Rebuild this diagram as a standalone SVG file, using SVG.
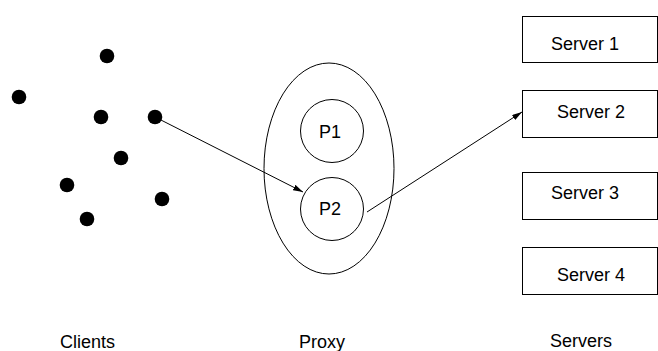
<svg xmlns="http://www.w3.org/2000/svg" width="658" height="351" viewBox="0 0 658 351">
<style>
text{font-family:"Liberation Sans",Arial,sans-serif;font-size:18px;fill:#000}
.s{fill:none;stroke:#000;stroke-width:1}
.dot{fill:#000}
</style>
<defs>
<marker id="ah" viewBox="0 0 10 6" refX="10" refY="3" markerWidth="10" markerHeight="6" markerUnits="userSpaceOnUse" orient="auto">
<path d="M0,0 L10,3 L0,6 Z" fill="#000"/>
</marker>
</defs>
<rect width="658" height="351" fill="#fff"/>
<g id="clients">
<circle class="dot" cx="107" cy="56" r="7.3"/>
<circle class="dot" cx="19" cy="97" r="7.3"/>
<circle class="dot" cx="101" cy="117" r="7.3"/>
<circle class="dot" cx="155" cy="117" r="7.3"/>
<circle class="dot" cx="121" cy="158" r="7.3"/>
<circle class="dot" cx="67" cy="185" r="7.3"/>
<circle class="dot" cx="162" cy="199" r="7.3"/>
<circle class="dot" cx="87" cy="219" r="7.3"/>
</g>
<g id="proxy">
<ellipse class="s" cx="329" cy="168.5" rx="65" ry="105.5"/>
</g>
<g id="p1">
<circle class="s" cx="332" cy="131" r="31.5"/>
<text x="319" y="138">P1</text>
</g>
<g id="p2">
<circle class="s" cx="332" cy="209" r="31.5"/>
<text x="319" y="215">P2</text>
</g>
<g id="server1"><rect class="s" x="522.5" y="16.5" width="135" height="46"/><text x="551" y="50">Server 1</text></g>
<g id="server2"><rect class="s" x="522.5" y="90.5" width="135" height="47"/><text x="557" y="118">Server 2</text></g>
<g id="server3"><rect class="s" x="522.5" y="172.5" width="135" height="47"/><text x="551" y="199">Server 3</text></g>
<g id="server4"><rect class="s" x="522.5" y="247.5" width="135" height="47"/><text x="557" y="281">Server 4</text></g>
<g id="labels">
<text x="60" y="348">Clients</text>
<text x="299" y="348">Proxy</text>
<text x="550" y="347">Servers</text>
</g>
<g id="connectors">
<line class="s" x1="155" y1="117" x2="303" y2="192" marker-end="url(#ah)"/>
<line class="s" x1="367" y1="212" x2="522" y2="112" marker-end="url(#ah)"/>
</g>
</svg>
